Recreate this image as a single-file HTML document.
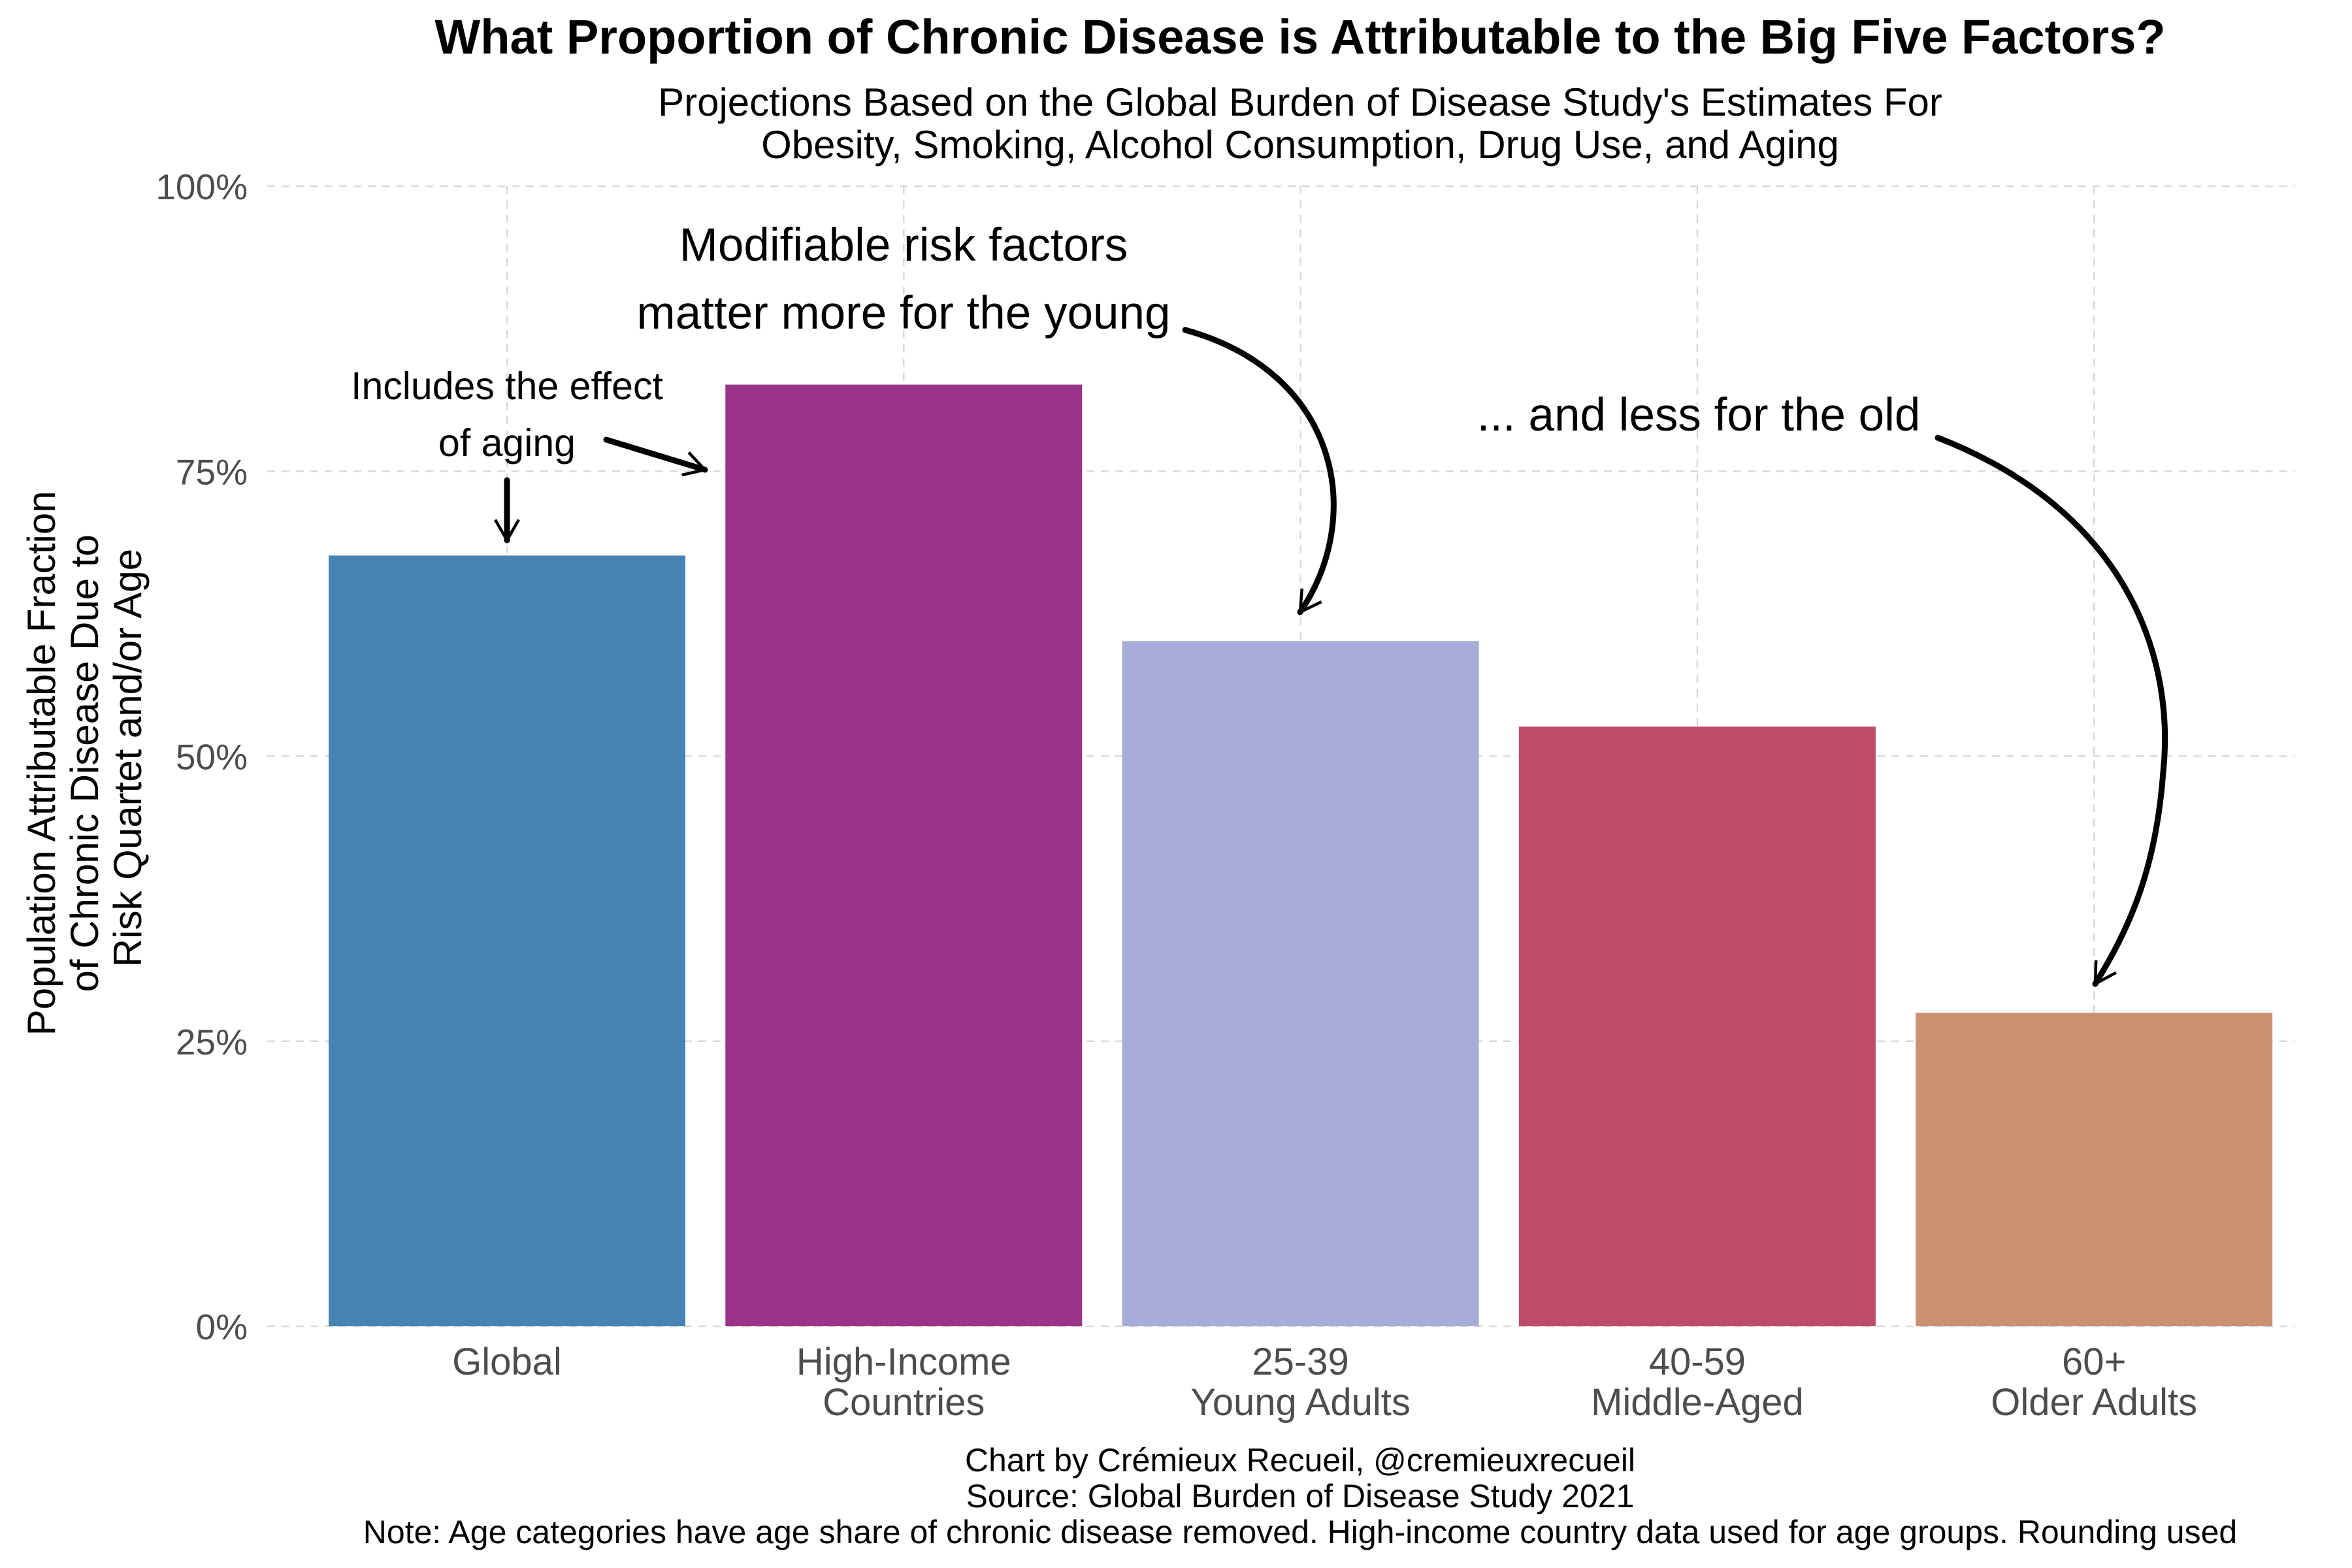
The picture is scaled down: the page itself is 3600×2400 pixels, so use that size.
<!DOCTYPE html>
<html><head><meta charset="utf-8"><style>
html,body{margin:0;padding:0;background:#fff}
svg{display:block;font-family:"Liberation Sans",Arial,sans-serif}
</style></head><body>
<svg id="chart" width="3600" height="2400" viewBox="0 0 3600 2400" xmlns="http://www.w3.org/2000/svg">
<defs>
<marker id="ah" viewBox="0 0 20 20" refX="18" refY="10" markerWidth="10" markerHeight="10" markerUnits="userSpaceOnUse" orient="auto" overflow="visible">
<path d="M-45,-26 L18,10 L-45,46" fill="none" stroke="#000" stroke-width="9" stroke-linejoin="miter"/>
</marker>
</defs>
<text x="1990" y="82" text-anchor="middle" font-size="74" font-weight="bold">What Proportion of Chronic Disease is Attributable to the Big Five Factors?</text>
<text x="1990" y="177" text-anchor="middle" font-size="60">Projections Based on the Global Burden of Disease Study's Estimates For</text>
<text x="1990" y="242" text-anchor="middle" font-size="60">Obesity, Smoking, Alcohol Consumption, Drug Use, and Aging</text>
<g id="grid"></g>
<g id="bars"></g>
<g id="yticks"></g>
<g id="xticks"></g>
<text transform="translate(130,1160) rotate(-90)" text-anchor="middle" font-size="60">
<tspan x="0" y="-46">Population Attributable Fraction</tspan>
<tspan x="0" y="20">of Chronic Disease Due to</tspan>
<tspan x="0" y="86">Risk Quartet and/or Age</tspan>
</text>
<g fill="#000">
<text x="1383" y="399" text-anchor="middle" font-size="71">Modifiable risk factors</text>
<text x="1383" y="503" text-anchor="middle" font-size="71">matter more for the young</text>
<text x="776" y="611" text-anchor="middle" font-size="59">Includes the effect</text>
<text x="776" y="698" text-anchor="middle" font-size="59">of aging</text>
<text x="2600" y="659" text-anchor="middle" font-size="71">... and less for the old</text>
<g fill="none" stroke="#000" stroke-width="9" stroke-linecap="round">
<path d="M776,735 L776,827" marker-end="url(#ah)"/>
<path d="M928,673 L1079,719" marker-end="url(#ah)"/>
<path d="M1814,505 C2050,570 2090,790 1990,937" marker-end="url(#ah)"/>
<path d="M2966,670 C3250,780 3330,1000 3311,1182 C3300,1330 3260,1420 3207,1506" marker-end="url(#ah)"/>
</g>
</g>
<g font-size="50" text-anchor="middle">
<text x="1990" y="2252">Chart by Crémieux Recueil, @cremieuxrecueil</text>
<text x="1990" y="2307">Source: Global Burden of Disease Study 2021</text>
<text x="1990" y="2362">Note: Age categories have age share of chronic disease removed. High-income country data used for age groups. Rounding used</text>
</g>
</svg>
<script>
const categories = ["Global", "High-Income|Countries", "25-39|Young Adults", "40-59|Middle-Aged", "60+|Older Adults"];
const values = [67.6, 82.6, 60.1, 52.6, 27.5];
const colors = ["#4682b4", "#993489", "#a8acd8", "#c04a69", "#cb9072"];
const yTicks = [0, 25, 50, 75, 100];
const yTickLabels = ["0%", "25%", "50%", "75%", "100%"];

const NS = "http://www.w3.org/2000/svg";
const y0 = 2030, y100 = 285;
function yScale(v){ return y0 - (y0 - y100) * v / 100; }
const step = 607.3, firstCenter = 776, barW = 546;
function xScale(i){ return firstCenter + i * step; }
const gridL = 409, gridR = 3513;
function mk(tag, attrs, parent){ const e=document.createElementNS(NS,tag); for(const k in attrs) e.setAttribute(k,attrs[k]); parent.appendChild(e); return e; }

const grid = document.getElementById('grid');
yTicks.forEach((t)=>{
  const l = mk('line',{x1:gridL,x2:gridR,y1:yScale(t),y2:yScale(t),stroke:'#d9d9d9','stroke-width':2.5,'stroke-dasharray':'12 10'},grid);
  
  
});
categories.forEach((c,i)=>{
  const l = mk('line',{x1:xScale(i),x2:xScale(i),y1:y100,y2:y0,stroke:'#d9d9d9','stroke-width':2.5,'stroke-dasharray':'12 10'},grid);
  
  
});

const bars = document.getElementById('bars');
values.forEach((v,i)=>{
  const r = mk('rect',{x:xScale(i)-barW/2,y:yScale(v),width:barW,height:yScale(0)-yScale(v),fill:colors[i]},bars);
  
  
});

const yt = document.getElementById('yticks');
yTicks.forEach((t,i)=>{
  const e = mk('text',{x:379,y:yScale(t)+20,'text-anchor':'end','font-size':55,fill:'#4d4d4d'},yt);
  e.textContent = yTickLabels[i];
  
  
});

const xt = document.getElementById('xticks');
categories.forEach((c,i)=>{
  const parts = c.split('|');
  parts.forEach((p,j)=>{
    const e = mk('text',{x:xScale(i),y:2104+j*62,'text-anchor':'middle','font-size':58,fill:'#4d4d4d'},xt);
    e.textContent = p;
    
    
  });
});
</script>
</body></html>
